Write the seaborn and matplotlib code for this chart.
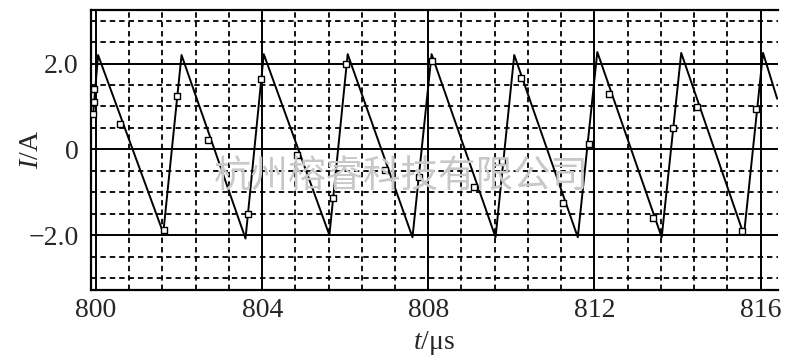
import matplotlib
matplotlib.use("Agg")
import matplotlib.pyplot as plt
from matplotlib.ticker import MultipleLocator, FixedLocator
import seaborn as sns
import pandas as pd

# ---- data ----
wave_t = [799.93, 800.05, 801.62, 802.06, 803.60, 804.04, 805.62, 806.06,
          807.62, 808.08, 809.62, 810.07, 811.60, 812.07, 813.62, 814.09,
          815.60, 816.06, 816.40]
wave_i = [0.80, 2.20, -1.95, 2.20, -2.08, 2.22, -2.00, 2.22,
          -2.05, 2.22, -2.05, 2.20, -2.05, 2.27, -2.05, 2.25,
          -2.00, 2.25, 1.18]

mark_t = [799.93, 799.95, 799.95, 800.58, 801.63, 801.95, 802.69, 803.66,
          803.97, 804.83, 805.70, 806.03, 806.95, 807.78, 808.08, 809.09,
          809.78, 810.24, 811.25, 811.87, 812.36, 813.42, 813.89, 814.48,
          815.55, 815.90]
mark_i = [0.82, 1.10, 1.40, 0.58, -1.87, 1.24, 0.22, -1.50,
          1.64, -0.12, -1.14, 1.98, -0.48, -0.65, 2.07, -0.87,
          -0.28, 1.66, -1.25, 0.12, 1.28, -1.60, 0.50, 0.98,
          -1.90, 0.93]

x_major = [800, 804, 808, 812, 816]
x_labels = ["800", "804", "808", "812", "816"]
y_major = [-2.0, 0.0, 2.0]
y_labels = ["\u22122.0", "0", "2.0"]

sns.set_style("white")
plt.rcParams["font.family"] = ["Liberation Serif", "DejaVu Serif"]
plt.rcParams["mathtext.fontset"] = "custom"
plt.rcParams["mathtext.it"] = "Liberation Serif:italic"
plt.rcParams["mathtext.rm"] = "Liberation Serif"

fig = plt.figure(figsize=(8.0, 3.64), dpi=100)
ax = fig.add_axes([91/800, 1 - 290/364, (778 - 91)/800, (290 - 10)/364])

wave = pd.DataFrame({"t": wave_t, "I": wave_i})
marks = pd.DataFrame({"t": mark_t, "I": mark_i})

sns.lineplot(data=wave, x="t", y="I", ax=ax, color="black", lw=1.4,
             sort=False, estimator=None, zorder=3)
sns.scatterplot(data=marks, x="t", y="I", ax=ax, marker="s", s=16,
                facecolor="white", edgecolor="black", linewidth=1.0, zorder=4)

ax.set_xlim(799.88, 816.42)
ax.set_ylim(-3.28, 3.25)

ax.xaxis.set_major_locator(FixedLocator(x_major))
ax.set_xticklabels(x_labels)
ax.yaxis.set_major_locator(FixedLocator(y_major))
ax.set_yticklabels(y_labels)
ax.xaxis.set_minor_locator(MultipleLocator(0.8))
ax.yaxis.set_minor_locator(MultipleLocator(0.5))

ax.grid(which="major", color="black", lw=1.4, ls="-", zorder=1)
ax.grid(which="minor", color="black", lw=1.3, ls=(0, (3.0, 2.2)), zorder=1)
ax.set_axisbelow(True)

ax.tick_params(axis="y", which="major", direction="out", length=5, width=1.4,
               color="black", labelsize=20, pad=4)
ax.tick_params(axis="x", which="major", length=0, labelsize=20, pad=6)
ax.tick_params(which="minor", length=0)

for s in ["left", "top", "bottom"]:
    ax.spines[s].set_color("black")
    ax.spines[s].set_linewidth(1.6)
ax.spines["right"].set_visible(False)

ax.set_xlabel("$t$/\u03bcs", fontsize=20, labelpad=4)
ax.set_ylabel("$I$/A", fontsize=20)
ax.yaxis.set_label_coords((44 - 91) / 687, 0.5)

fig.text(0.501, 0.513, "杭州榕睿科技有限公司", ha="center", va="center",
         fontsize=27, color="#c8c8c8", family=["Noto Sans CJK SC", "DejaVu Sans"],
         zorder=10)

fig.savefig("out.png", dpi=100)
